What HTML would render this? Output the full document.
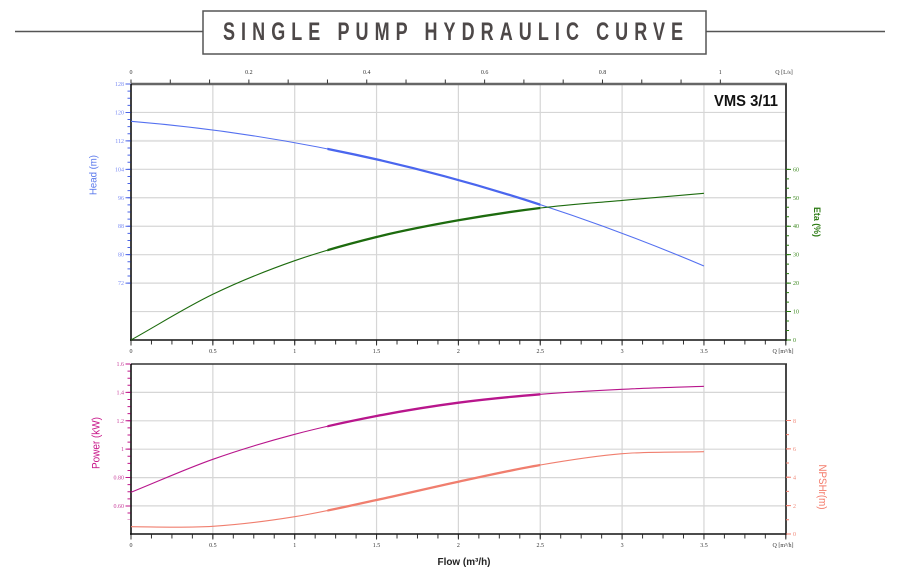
<!DOCTYPE html>
<html><head><meta charset="utf-8"><style>
html,body{margin:0;padding:0;background:#fff;}
svg{display:block;}
.tl{font-family:"Liberation Serif",serif;font-size:6px;}
</style></head><body>
<svg width="898" height="571" viewBox="0 0 898 571" xmlns="http://www.w3.org/2000/svg">
<defs>
<clipPath id="thk"><rect x="327.4" y="0" width="212.85" height="571"/></clipPath>
</defs>
<!-- Title -->
<line x1="15" y1="31.5" x2="203" y2="31.5" stroke="#555" stroke-width="1.5"/>
<line x1="706" y1="31.5" x2="885" y2="31.5" stroke="#555" stroke-width="1.5"/>
<rect x="203" y="11" width="503" height="43" fill="#fff" stroke="#555" stroke-width="1.5"/>
<g transform="scale(0.72,1)">
<text x="309.7" y="40" font-family="Liberation Sans, sans-serif" font-weight="bold" font-size="25" fill="#4d4848" textLength="639" lengthAdjust="spacing">SINGLE PUMP HYDRAULIC CURVE</text>
</g>

<!-- ===== Upper chart ===== -->
<g stroke="#d6d6d6" stroke-width="1.2">
<line x1="212.85" y1="84" x2="212.85" y2="340"/><line x1="294.7" y1="84" x2="294.7" y2="340"/>
<line x1="376.55" y1="84" x2="376.55" y2="340"/><line x1="458.4" y1="84" x2="458.4" y2="340"/>
<line x1="540.25" y1="84" x2="540.25" y2="340"/><line x1="622.1" y1="84" x2="622.1" y2="340"/>
<line x1="703.95" y1="84" x2="703.95" y2="340"/>
<line x1="131" y1="112.44" x2="786" y2="112.44"/><line x1="131" y1="140.89" x2="786" y2="140.89" stroke-width="2" stroke="#e2e2e2"/>
<line x1="131" y1="169.33" x2="786" y2="169.33"/><line x1="131" y1="197.78" x2="786" y2="197.78"/>
<line x1="131" y1="226.22" x2="786" y2="226.22"/><line x1="131" y1="254.67" x2="786" y2="254.67"/>
<line x1="131" y1="283.11" x2="786" y2="283.11"/><line x1="131" y1="311.56" x2="786" y2="311.56"/>
</g>
<!-- frame -->
<line x1="131" y1="84" x2="787" y2="84" stroke="#666" stroke-width="2.5"/>
<line x1="786" y1="84" x2="786" y2="341" stroke="#444" stroke-width="2"/>
<line x1="131" y1="84" x2="131" y2="341" stroke="#000" stroke-width="1.5"/>
<line x1="130" y1="340" x2="787" y2="340" stroke="#111" stroke-width="1.5"/>
<!-- top ticks -->
<line x1="130.5" y1="81.5" x2="722" y2="81.5" stroke="#333" stroke-width="4" stroke-dasharray="1 38.29"/>
<!-- bottom ticks -->
<line x1="130.5" y1="342.5" x2="787" y2="342.5" stroke="#333" stroke-width="4" stroke-dasharray="1 19.4625"/>
<line x1="130.5" y1="343" x2="787" y2="343" stroke="#333" stroke-width="5" stroke-dasharray="1 80.85"/>
<!-- head ticks -->
<line x1="129" y1="83.5" x2="129" y2="284" stroke="#4a63e6" stroke-width="3" stroke-dasharray="1 6.111"/>
<line x1="128" y1="83.5" x2="128" y2="284" stroke="#4a63e6" stroke-width="5" stroke-dasharray="1 27.444"/>
<!-- eta ticks -->
<line x1="787.5" y1="340.5" x2="787.5" y2="168" stroke="#2a7a12" stroke-width="3" stroke-dasharray="1 8.481"/>
<line x1="788.5" y1="340.5" x2="788.5" y2="168" stroke="#2a7a12" stroke-width="5" stroke-dasharray="1 27.444"/>

<!-- labels top -->
<g class="tl" fill="#333" text-anchor="middle">
<text x="131" y="74">0</text><text x="248.9" y="74">0.2</text><text x="366.7" y="74">0.4</text>
<text x="484.6" y="74">0.6</text><text x="602.5" y="74">0.8</text><text x="720.3" y="74">1</text>
<text x="784" y="74">Q [L/s]</text>
</g>
<g class="tl" fill="#333" text-anchor="middle">
<text x="131" y="353">0</text><text x="212.85" y="353">0.5</text><text x="294.7" y="353">1</text>
<text x="376.55" y="353">1.5</text><text x="458.4" y="353">2</text><text x="540.25" y="353">2.5</text>
<text x="622.1" y="353">3</text><text x="703.95" y="353">3.5</text><text x="783" y="353">Q [m³/h]</text>
</g>
<g class="tl" fill="#7b8cf4" text-anchor="end">
<text x="124" y="86">128</text><text x="124" y="114.4">120</text><text x="124" y="142.9">112</text>
<text x="124" y="171.3">104</text><text x="124" y="199.8">96</text><text x="124" y="228.2">88</text>
<text x="124" y="256.7">80</text><text x="124" y="285.1">72</text>
</g>
<g class="tl" fill="#3f8a22">
<text x="793" y="342">0</text><text x="793" y="313.6">10</text><text x="793" y="285.1">20</text>
<text x="793" y="256.7">30</text><text x="793" y="228.2">40</text><text x="793" y="199.8">50</text>
<text x="793" y="171.3">60</text>
</g>
<text transform="translate(96.5,175) rotate(-90)" text-anchor="middle" font-family="Liberation Sans, sans-serif" font-size="10" fill="#5a78ec" textLength="40" lengthAdjust="spacingAndGlyphs">Head (m)</text>
<text transform="translate(814,222) rotate(90)" text-anchor="middle" font-family="Liberation Sans, sans-serif" font-weight="bold" font-size="9" fill="#2b7a12" textLength="30" lengthAdjust="spacingAndGlyphs">Eta (%)</text>
<text x="714" y="106" font-family="Liberation Sans, sans-serif" font-weight="bold" font-size="15.5" fill="#111" textLength="64" lengthAdjust="spacingAndGlyphs">VMS 3/11</text>

<!-- curves upper -->
<path d="M131,121.3 Q417.5,144.75 703.95,265.96" fill="none" stroke="#5470f0" stroke-width="1.1"/>
<path d="M131,121.3 Q417.5,144.75 703.95,265.96" fill="none" stroke="#4a66ee" stroke-width="2.3" clip-path="url(#thk)"/>
<g fill="none" stroke="#1d6b0e">
<path id="eta" stroke-width="1.1" d="M131,340 C158.28,324.77 185.57,307.52 212.85,294.3 C240.13,281.08 267.42,270.25 294.7,260.7 C321.98,251.15 349.27,243.73 376.55,237 C403.83,230.27 431.12,225.13 458.4,220.3 C485.68,215.47 512.97,211.32 540.25,208 C567.53,204.68 594.82,202.85 622.1,200.4 C649.38,197.95 676.67,195.67 703.95,193.3"/>
<path stroke-width="2.3" clip-path="url(#thk)" d="M131,340 C158.28,324.77 185.57,307.52 212.85,294.3 C240.13,281.08 267.42,270.25 294.7,260.7 C321.98,251.15 349.27,243.73 376.55,237 C403.83,230.27 431.12,225.13 458.4,220.3 C485.68,215.47 512.97,211.32 540.25,208 C567.53,204.68 594.82,202.85 622.1,200.4 C649.38,197.95 676.67,195.67 703.95,193.3"/>
</g>

<!-- ===== Lower chart ===== -->
<g stroke="#d6d6d6" stroke-width="1.2">
<line x1="212.85" y1="364" x2="212.85" y2="534"/><line x1="294.7" y1="364" x2="294.7" y2="534"/>
<line x1="376.55" y1="364" x2="376.55" y2="534"/><line x1="458.4" y1="364" x2="458.4" y2="534"/>
<line x1="540.25" y1="364" x2="540.25" y2="534"/><line x1="622.1" y1="364" x2="622.1" y2="534"/>
<line x1="703.95" y1="364" x2="703.95" y2="534"/>
<line x1="131" y1="392.4" x2="786" y2="392.4"/><line x1="131" y1="420.8" x2="786" y2="420.8"/>
<line x1="131" y1="449.2" x2="786" y2="449.2"/><line x1="131" y1="477.6" x2="786" y2="477.6"/>
<line x1="131" y1="505.9" x2="786" y2="505.9"/>
</g>
<line x1="131" y1="364" x2="787" y2="364" stroke="#333" stroke-width="1.5"/>
<line x1="786" y1="364" x2="786" y2="535" stroke="#333" stroke-width="1.8"/>
<line x1="131" y1="364" x2="131" y2="535" stroke="#000" stroke-width="1.5"/>
<line x1="130" y1="534" x2="787" y2="534" stroke="#111" stroke-width="1.5"/>
<line x1="130.5" y1="536.5" x2="787" y2="536.5" stroke="#333" stroke-width="4" stroke-dasharray="1 19.4625"/>
<line x1="130.5" y1="537" x2="787" y2="537" stroke="#333" stroke-width="5" stroke-dasharray="1 80.85"/>
<!-- power ticks -->
<line x1="129" y1="363.5" x2="129" y2="520" stroke="#c0168a" stroke-width="3" stroke-dasharray="1 6.097"/>
<line x1="128" y1="363.5" x2="128" y2="520" stroke="#c0168a" stroke-width="5" stroke-dasharray="1 27.39"/>
<!-- npsh ticks -->
<line x1="787.5" y1="534.5" x2="787.5" y2="419" stroke="#f07e6e" stroke-width="3" stroke-dasharray="1 13.195"/>
<line x1="788.5" y1="534.5" x2="788.5" y2="419" stroke="#f07e6e" stroke-width="5" stroke-dasharray="1 27.39"/>

<g class="tl" fill="#333" text-anchor="middle">
<text x="131" y="547">0</text><text x="212.85" y="547">0.5</text><text x="294.7" y="547">1</text>
<text x="376.55" y="547">1.5</text><text x="458.4" y="547">2</text><text x="540.25" y="547">2.5</text>
<text x="622.1" y="547">3</text><text x="703.95" y="547">3.5</text><text x="783" y="547">Q [m³/h]</text>
</g>
<g class="tl" fill="#c8409c" text-anchor="end">
<text x="124" y="366">1.6</text><text x="124" y="394.4">1.4</text><text x="124" y="422.8">1.2</text>
<text x="124" y="451.2">1</text><text x="124" y="479.6">0.80</text><text x="124" y="507.9">0.60</text>
</g>
<g class="tl" fill="#f08a7a">
<text x="793" y="536">0</text><text x="793" y="507.9">2</text><text x="793" y="479.6">4</text>
<text x="793" y="451.2">6</text><text x="793" y="422.8">8</text>
</g>
<text transform="translate(99.5,443) rotate(-90)" text-anchor="middle" font-family="Liberation Sans, sans-serif" font-size="11" fill="#c8188a" textLength="52" lengthAdjust="spacingAndGlyphs">Power (kW)</text>
<text transform="translate(819,487) rotate(90)" text-anchor="middle" font-family="Liberation Sans, sans-serif" font-size="11" fill="#f47c6c" textLength="45" lengthAdjust="spacingAndGlyphs">NPSHr(m)</text>
<text x="464" y="565" text-anchor="middle" font-family="Liberation Sans, sans-serif" font-weight="bold" font-size="10" fill="#222" textLength="53" lengthAdjust="spacingAndGlyphs">Flow (m³/h)</text>

<g fill="none" stroke="#b8168c">
<path stroke-width="1.1" d="M131,492.3 C158.28,481.3 185.57,468.97 212.85,459.3 C240.13,449.63 267.42,441.52 294.7,434.3 C321.98,427.08 349.27,421.27 376.55,416 C403.83,410.73 431.12,406.32 458.4,402.7 C485.68,399.08 512.97,396.53 540.25,394.3 C567.53,392.07 594.82,390.63 622.1,389.3 C649.38,387.97 676.67,387.3 703.95,386.3"/>
<path stroke-width="2.3" clip-path="url(#thk)" d="M131,492.3 C158.28,481.3 185.57,468.97 212.85,459.3 C240.13,449.63 267.42,441.52 294.7,434.3 C321.98,427.08 349.27,421.27 376.55,416 C403.83,410.73 431.12,406.32 458.4,402.7 C485.68,399.08 512.97,396.53 540.25,394.3 C567.53,392.07 594.82,390.63 622.1,389.3 C649.38,387.97 676.67,387.3 703.95,386.3"/>
</g>
<g fill="none" stroke="#f07e6e">
<path stroke-width="1.1" d="M131,526.7 C158.28,526.92 185.57,527.97 212.85,526.3 C240.13,524.63 267.42,521.08 294.7,516.7 C321.98,512.32 349.27,505.83 376.55,500 C403.83,494.17 431.12,487.53 458.4,481.7 C485.68,475.87 512.97,469.67 540.25,465 C567.53,460.33 594.82,455.92 622.1,453.7 C649.38,451.48 676.67,452.37 703.95,451.7"/>
<path stroke-width="2.3" clip-path="url(#thk)" d="M131,526.7 C158.28,526.92 185.57,527.97 212.85,526.3 C240.13,524.63 267.42,521.08 294.7,516.7 C321.98,512.32 349.27,505.83 376.55,500 C403.83,494.17 431.12,487.53 458.4,481.7 C485.68,475.87 512.97,469.67 540.25,465 C567.53,460.33 594.82,455.92 622.1,453.7 C649.38,451.48 676.67,452.37 703.95,451.7"/>
</g>
</svg>
</body></html>
